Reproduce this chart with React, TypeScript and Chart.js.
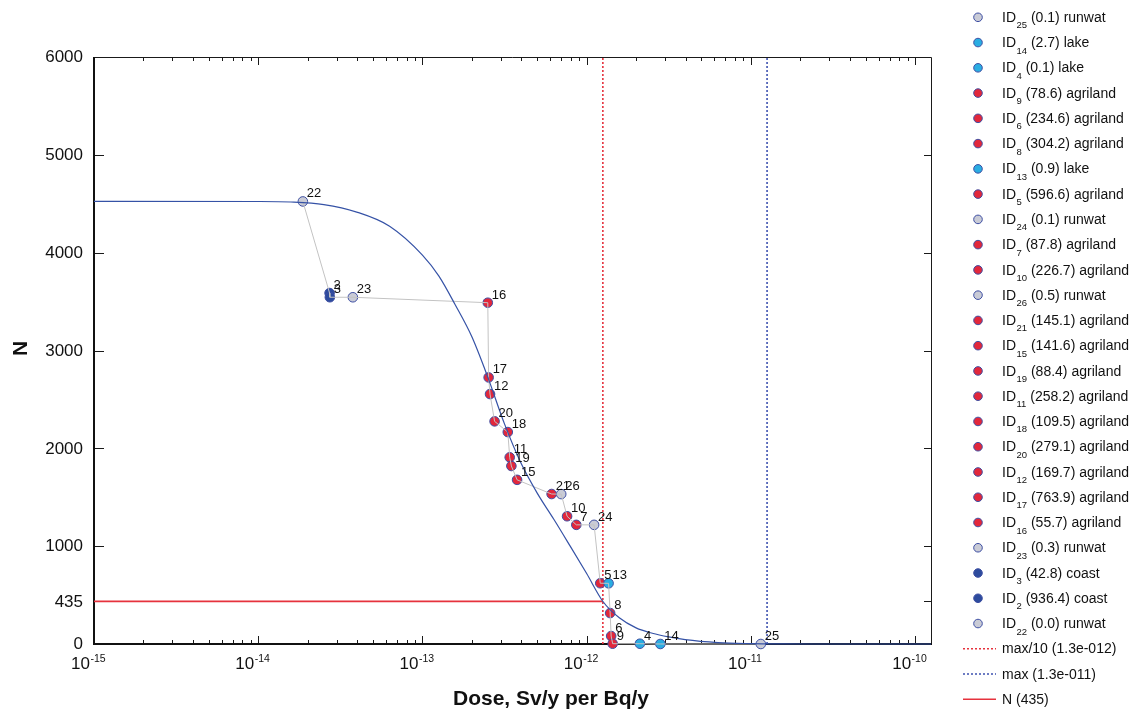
import { useEffect, useRef } from "react";
import { Chart, registerables } from "chart.js";

Chart.register(...registerables);

// Sites, listed in legend order (lowest cumulative N first)
const siteIds = [25, 14, 4, 9, 6, 8, 13, 5, 24, 7, 10, 26, 21, 15, 19, 11, 18, 20, 12, 17, 16, 23, 3, 2, 22];
const siteAmounts = ["0.1", "2.7", "0.1", "78.6", "234.6", "304.2", "0.9", "596.6", "0.1", "87.8", "226.7", "0.5", "145.1", "141.6", "88.4", "258.2", "109.5", "279.1", "169.7", "763.9", "55.7", "0.3", "42.8", "936.4", "0.0"];
const siteKinds = ["runwat", "lake", "lake", "agriland", "agriland", "agriland", "lake", "agriland", "runwat", "agriland", "agriland", "runwat", "agriland", "agriland", "agriland", "agriland", "agriland", "agriland", "agriland", "agriland", "agriland", "runwat", "coast", "coast", "runwat"];
const siteDoses = [1.15e-11, 2.81e-12, 2.11e-12, 1.44e-12, 1.41e-12, 1.39e-12, 1.36e-12, 1.21e-12, 1.11e-12, 8.65e-13, 7.6e-13, 7.0e-13, 6.12e-13, 3.77e-13, 3.48e-13, 3.4e-13, 3.31e-13, 2.75e-13, 2.58e-13, 2.53e-13, 2.5e-13, 3.77e-14, 2.73e-14, 2.72e-14, 1.87e-14];
const siteN = [0, 0.1, 2.8, 2.9, 81.5, 316.1, 620.3, 621.2, 1217.8, 1217.9, 1305.7, 1532.4, 1532.9, 1678.0, 1819.6, 1908.0, 2166.2, 2275.7, 2554.8, 2724.5, 3488.4, 3544.1, 3544.4, 3587.2, 4523.6];

// Fitted N(dose) curve
const curveDoses = [1e-15, 1e-14, 1.58e-14, 2.51e-14, 3.98e-14, 6.31e-14, 1e-13, 1.26e-13, 1.58e-13, 2.0e-13, 2.51e-13, 3.16e-13, 3.98e-13, 5.01e-13, 6.31e-13, 7.94e-13, 1e-12, 1.26e-12, 1.58e-12, 2.0e-12, 2.51e-12, 3.16e-12, 3.98e-12, 6.31e-12, 1e-11, 1.58e-11, 3.16e-11, 1.25e-10];
const curveN = [4524, 4523, 4518, 4492, 4415, 4270, 3975, 3760, 3470, 3140, 2720, 2250, 1850, 1540, 1275, 1000, 720, 432, 268, 165, 110, 72, 44, 14, 4, 1, 0, 0];

const yTickValues = [0, 435, 1000, 2000, 3000, 4000, 5000, 6000];
const xDecades = [-15, -14, -13, -12, -11, -10];

const maxDose = 1.255e-11;
const maxTenthDose = 1.255e-12;
const nThreshold = 435;

const refLabels = ["max/10 (1.3e-012)", "max (1.3e-011)", "N (" + nThreshold + ")"];

const kindFill: Record<string, string> = {
  agriland: "#e2273b",
  lake: "#2aade2",
  runwat: "#c9cbd6",
  coast: "#2d4b9d",
};
const markerEdge = "#3e4fa3";
const redLine = "#e6323d";
const blueDots = "#3e52b0";
const curveBlue = "#3552a6";
const ink = "#111111";
const FONT = '"Liberation Sans", Arial, Helvetica, sans-serif';

const frameAndAxes = {
  id: "frameAndAxes",
  beforeDatasetsDraw(chart: any) {
    const { ctx, chartArea: a, scales } = chart;
    const xs = scales.x;
    const ys = scales.y;
    ctx.save();
    ctx.strokeStyle = "#1a1a1a";
    ctx.lineWidth = 1;
    ctx.beginPath();
    for (const e of xDecades) {
      for (let m = 1; m <= 9; m++) {
        const v = m * Math.pow(10, e);
        if (v < xs.min * 0.999 || v > xs.max) continue;
        const px = Math.round(xs.getPixelForValue(v)) + 0.5;
        const len = m === 1 ? 8 : 4;
        ctx.moveTo(px, a.bottom);
        ctx.lineTo(px, a.bottom - len);
        ctx.moveTo(px, a.top);
        ctx.lineTo(px, a.top + len);
      }
    }
    for (const v of yTickValues) {
      const py = Math.round(ys.getPixelForValue(v)) + 0.5;
      ctx.moveTo(a.left, py);
      ctx.lineTo(a.left + 10, py);
      ctx.moveTo(a.right, py);
      ctx.lineTo(a.right - 7, py);
    }
    ctx.stroke();

    // box: heavier left and bottom axes
    ctx.beginPath();
    ctx.lineWidth = 1;
    ctx.moveTo(a.left, a.top + 0.5);
    ctx.lineTo(a.right + 0.5, a.top + 0.5);
    ctx.lineTo(a.right + 0.5, a.bottom);
    ctx.stroke();
    ctx.beginPath();
    ctx.lineWidth = 2;
    ctx.strokeStyle = "#111";
    ctx.moveTo(a.left, a.top);
    ctx.lineTo(a.left, a.bottom);
    ctx.lineTo(a.right + 1, a.bottom);
    ctx.stroke();

    // tick labels
    ctx.fillStyle = ink;
    ctx.font = `17px ${FONT}`;
    ctx.textAlign = "right";
    ctx.textBaseline = "middle";
    for (const v of yTickValues) {
      ctx.fillText(String(v), a.left - 11, ys.getPixelForValue(v) + 0.5);
    }
    ctx.textBaseline = "alphabetic";
    for (const e of xDecades) {
      const px = xs.getPixelForValue(Math.pow(10, e));
      ctx.font = `17px ${FONT}`;
      ctx.textAlign = "right";
      ctx.fillText("10", px - 4, a.bottom + 25);
      ctx.font = `10.5px ${FONT}`;
      ctx.textAlign = "left";
      ctx.fillText(String(e), px - 3.5, a.bottom + 18);
    }

    // axis titles
    ctx.font = `bold 21px ${FONT}`;
    ctx.textAlign = "center";
    ctx.fillText("Dose, Sv/y per Bq/y", 551, a.bottom + 61);
    ctx.save();
    ctx.translate(21, (a.top + a.bottom) / 2 - 2);
    ctx.rotate(-Math.PI / 2);
    ctx.textBaseline = "middle";
    ctx.fillText("N", 0, 0);
    ctx.restore();
    ctx.restore();
  },
  afterDatasetsDraw(chart: any) {
    const { ctx } = chart;
    ctx.save();
    ctx.fillStyle = ink;
    ctx.font = `13px ${FONT}`;
    ctx.textAlign = "left";
    ctx.textBaseline = "alphabetic";
    chart.data.datasets.forEach((ds: any, i: number) => {
      if (ds.siteId === undefined) return;
      const el = chart.getDatasetMeta(i).data[0];
      if (!el) return;
      ctx.fillText(String(ds.siteId), el.x + 4, el.y - 4);
    });

    // legend
    const rowStep = 25.26;
    const top = 17.3;
    const mx = 978;
    const tx = 1002;
    siteIds.forEach((id, i) => {
      const cy = top + i * rowStep;
      ctx.beginPath();
      ctx.arc(mx, cy, 4.3, 0, Math.PI * 2);
      ctx.fillStyle = kindFill[siteKinds[i]];
      ctx.fill();
      ctx.lineWidth = 1;
      ctx.strokeStyle = markerEdge;
      ctx.stroke();
      ctx.fillStyle = ink;
      ctx.font = `14px ${FONT}`;
      ctx.fillText("ID", tx, cy + 4.6);
      let x = tx + ctx.measureText("ID").width + 0.5;
      ctx.font = `9.5px ${FONT}`;
      ctx.fillText(String(id), x, cy + 11);
      x += ctx.measureText(String(id)).width;
      ctx.font = `14px ${FONT}`;
      ctx.fillText(` (${siteAmounts[i]}) ${siteKinds[i]}`, x, cy + 4.6);
    });
    const refStyles = [
      { color: redLine, dash: [2, 2], width: 1.6 },
      { color: blueDots, dash: [2, 2], width: 1.6 },
      { color: redLine, dash: [], width: 1.6 },
    ];
    refLabels.forEach((label, j) => {
      const cy = top + (siteIds.length + j) * rowStep;
      const s = refStyles[j];
      ctx.beginPath();
      ctx.setLineDash(s.dash);
      ctx.strokeStyle = s.color;
      ctx.lineWidth = s.width;
      ctx.moveTo(963, cy);
      ctx.lineTo(996, cy);
      ctx.stroke();
      ctx.setLineDash([]);
      ctx.fillStyle = ink;
      ctx.font = `14px ${FONT}`;
      ctx.fillText(label, tx, cy + 4.6);
    });
    ctx.restore();
  },
};

function buildDatasets(): any[] {
  const curve = {
    type: "line",
    data: curveDoses.map((d, i) => ({ x: d, y: curveN[i] })),
    borderColor: curveBlue,
    borderWidth: 1.2,
    pointRadius: 0,
    cubicInterpolationMode: "monotone",
    clip: false,
    order: 0,
  };
  // path joining the sites from highest N to lowest
  const path = {
    type: "line",
    data: siteDoses.map((d, i) => ({ x: d, y: siteN[i] })).reverse(),
    borderColor: "#c3c3c3",
    borderWidth: 1,
    pointRadius: 0,
    tension: 0,
    clip: false,
    order: 1,
  };
  const sites = siteIds.map((id, i) => ({
    type: "scatter",
    siteId: id,
    data: [{ x: siteDoses[i], y: siteN[i] }],
    backgroundColor: kindFill[siteKinds[i]],
    borderColor: markerEdge,
    borderWidth: 1,
    pointRadius: 4.8,
    clip: false,
    order: 2,
  }));
  const refs = [
    {
      type: "line",
      data: [{ x: maxTenthDose, y: 0 }, { x: maxTenthDose, y: 6000 }],
      borderColor: redLine,
      borderWidth: 1.6,
      borderDash: [2, 2],
      pointRadius: 0,
      order: 3,
    },
    {
      type: "line",
      data: [{ x: maxDose, y: 0 }, { x: maxDose, y: 6000 }],
      borderColor: blueDots,
      borderWidth: 1.6,
      borderDash: [2, 2],
      pointRadius: 0,
      order: 3,
    },
    {
      type: "line",
      data: [{ x: 1e-15, y: nThreshold }, { x: maxTenthDose, y: nThreshold }],
      borderColor: redLine,
      borderWidth: 1.8,
      pointRadius: 0,
      order: 3,
    },
  ];
  return [curve, path, ...sites, ...refs];
}

export default function App() {
  const canvasRef = useRef<HTMLCanvasElement>(null);
  useEffect(() => {
    const chart = new Chart(canvasRef.current as HTMLCanvasElement, {
      type: "scatter",
      data: { datasets: buildDatasets() as any },
      options: {
        animation: false,
        responsive: false,
        maintainAspectRatio: false,
        events: [],
        layout: { padding: { left: 94, top: 57, right: 206, bottom: 71 } },
        plugins: { legend: { display: false }, tooltip: { enabled: false } },
        scales: {
          x: { type: "logarithmic", min: 1e-15, max: 1.25e-10, display: false },
          y: { type: "linear", min: 0, max: 6000, display: false },
        },
      } as any,
      plugins: [frameAndAxes],
    });
    return () => chart.destroy();
  }, []);
  return (
    <div style={{ position: "fixed", left: 0, top: 0, width: 1137, height: 715, background: "#fff" }}>
      <canvas ref={canvasRef} width={1137} height={715} style={{ display: "block", width: 1137, height: 715 }} />
    </div>
  );
}
